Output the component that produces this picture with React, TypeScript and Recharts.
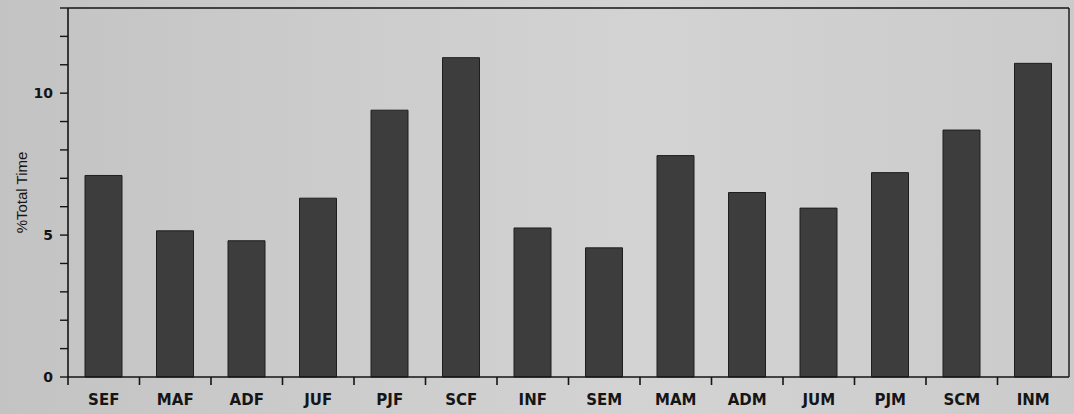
import { BarChart, Bar, XAxis, YAxis, ReferenceLine } from "recharts";

// categories and % total time
const categories = ["SEF", "MAF", "ADF", "JUF", "PJF", "SCF", "INF", "SEM", "MAM", "ADM", "JUM", "PJM", "SCM", "INM"];
const totalTime = [7.1, 5.15, 4.8, 6.3, 9.4, 11.25, 5.25, 4.55, 7.8, 6.5, 5.95, 7.2, 8.7, 11.05];
const yTicks = [0, 1, 2, 3, 4, 5, 6, 7, 8, 9, 10, 11, 12, 13];
const yLabelled = [0, 5, 10];

const data = categories.map((name, i) => ({ name, value: totalTime[i] }));

const INK = "#151515";

// tick line sits on the category boundary (left edge of each band), label under the band centre
const CategoryTick = ({ x, y, payload }: any) => {
  const half = payload.offset || 0;
  return (
    <g>
      <line x1={x - half} y1={y - 8} x2={x - half} y2={y} stroke={INK} strokeWidth={1.6} />
      <text
        x={x}
        y={y + 20}
        textAnchor="middle"
        fill={INK}
        fontFamily="DejaVu Sans, sans-serif"
        fontWeight="bold"
        fontSize={15}
      >
        {payload.value}
      </text>
    </g>
  );
};

const ValueTick = ({ x, y, payload }: any) => {
  if (!yLabelled.includes(payload.value)) return null;
  return (
    <text
      x={x - 5}
      y={y + 5}
      textAnchor="end"
      fill={INK}
      fontFamily="DejaVu Sans, sans-serif"
      fontWeight="bold"
      fontSize={14}
    >
      {payload.value}
    </text>
  );
};

export default function App() {
  return (
    <div
      style={{
        position: "fixed",
        top: 0,
        left: 0,
        width: 1074,
        height: 414,
        overflow: "hidden",
        background: "linear-gradient(90deg, #c3c3c3 0%, #cdcdcd 35%, #d3d3d3 60%, #cbcbcb 100%)",
      }}
    >
      <BarChart width={1074} height={414} data={data} margin={{ top: 8, right: 4, bottom: 0, left: 0 }} barSize={37}>
        <XAxis
          dataKey="name"
          height={37}
          interval={0}
          axisLine={{ stroke: INK, strokeWidth: 1.6 }}
          tickLine={false}
          tick={<CategoryTick />}
        />
        <YAxis
          width={68}
          domain={[0, 13]}
          ticks={yTicks}
          interval={0}
          tickSize={8}
          axisLine={{ stroke: INK, strokeWidth: 1.6 }}
          tickLine={{ stroke: INK, strokeWidth: 1.4 }}
          tick={<ValueTick />}
          label={{
            value: "%Total Time",
            angle: -90,
            position: "insideLeft",
            offset: 22,
            style: { fontFamily: "Liberation Sans Narrow, Liberation Sans, sans-serif", fontSize: 15, fill: INK, textAnchor: "middle" },
          }}
        />
        <YAxis yAxisId="right" orientation="right" width={1} domain={[0, 13]} tick={false} tickLine={false} axisLine={{ stroke: INK, strokeWidth: 1.4 }} />
        {/* top edge of the frame */}
        <ReferenceLine y={13} stroke={INK} strokeWidth={1.4} ifOverflow="visible" />
        <Bar dataKey="value" fill="#3d3d3d" stroke="#1e1e1e" strokeWidth={1} isAnimationActive={false} />
      </BarChart>
    </div>
  );
}
